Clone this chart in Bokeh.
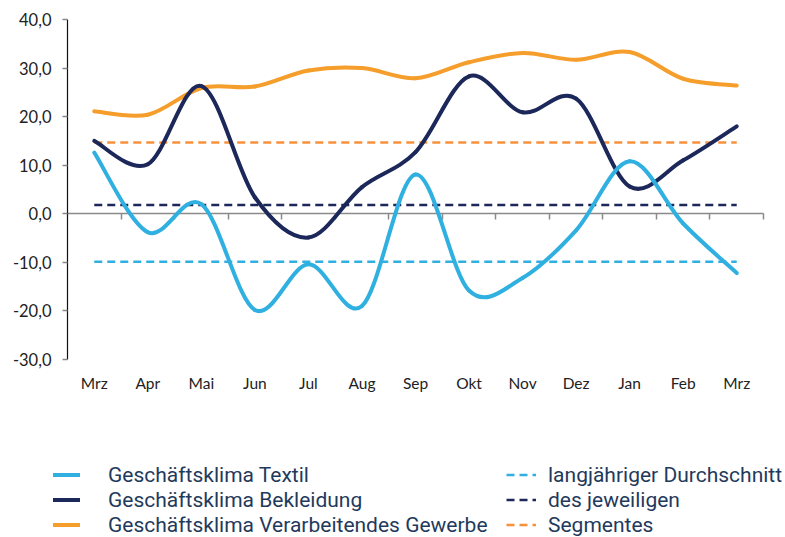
from bokeh.plotting import figure
from bokeh.models import Range1d, FixedTicker, LinearAxis, Legend, LegendItem
from bokeh.embed import file_html
from bokeh.resources import INLINE

# ---- data ----
months = ["Mrz", "Apr", "Mai", "Jun", "Jul", "Aug", "Sep", "Okt", "Nov", "Dez", "Jan", "Feb", "Mrz"]
textil = [12.6, -3.8, 2.0, -19.8, -10.4, -19.0, 8.1, -15.8, -13.2, -3.4, 10.8, -2.0, -12.2]
bekleidung = [15.0, 10.2, 26.3, 3.4, -4.9, 5.5, 12.7, 28.3, 20.9, 23.7, 5.6, 11.0, 18.0]
verarbeitend = [21.1, 20.4, 25.9, 26.2, 29.5, 30.0, 27.9, 31.2, 33.1, 31.7, 33.3, 27.8, 26.4]
avg_textil = -9.9
avg_bekleidung = 1.8
avg_verarbeitend = 14.7
y_ticks = [-30, -20, -10, 0, 10, 20, 30, 40]
y_tick_labels = ["-30,0", "-20,0", "-10,0", "0,0", "10,0", "20,0", "30,0", "40,0"]
legend_solid = ["Geschäftsklima Textil", "Geschäftsklima Bekleidung", "Geschäftsklima Verarbeitendes Gewerbe"]
legend_dashed = ["langjähriger Durchschnitt", "des jeweiligen", "Segmentes"]

C_LIGHT = "#2FB0E0"
C_NAVY = "#1C275A"
C_ORANGE = "#F59E2B"
C_ORANGE_D = "#F7913C"
FONT = "Lato"
LFONT = "Roboto"
DASH = "8 5"

n = len(months)
xs = [i + 0.5 for i in range(n)]
y_lo, y_hi = y_ticks[0], y_ticks[-1]

# layout geometry (pixels) of the plotting area inside the 785x537 canvas
W, H = 785, 537
AX_L, AX_R, AX_T, AX_B = 67, 763, 19, 359
px_x = (AX_R - AX_L) / n
px_y = (AX_B - AX_T) / (y_hi - y_lo)

p = figure(width=W, height=H, output_backend="svg", toolbar_location=None,
           x_range=Range1d(-AX_L / px_x, n + (W - AX_R) / px_x),
           y_range=Range1d(y_lo - (H - AX_B) / px_y, y_hi + AX_T / px_y),
           min_border=0, min_border_left=0, min_border_right=0, min_border_top=0, min_border_bottom=0)
p.outline_line_color = None
p.grid.visible = False
p.background_fill_color = "white"

# y axis (fixed at x=0)
ya = p.yaxis[0]
ya.fixed_location = 0
ya.bounds = (y_lo, y_hi)
ya.ticker = FixedTicker(ticks=y_ticks)
ya.major_label_overrides = {t: l for t, l in zip(y_ticks, y_tick_labels)}
ya.axis_line_color = "#111111"
ya.axis_line_width = 1.2
ya.major_tick_line_color = "#888888"
ya.major_tick_line_width = 1.5
ya.major_tick_out = 5
ya.major_tick_in = 0
ya.minor_tick_line_color = None
ya.major_label_standoff = 11
ya.major_label_text_font = FONT
ya.major_label_text_font_size = "16.5px"
ya.major_label_text_color = "#222222"

# x axis: month labels below the -30 line
xa = p.xaxis[0]
xa.fixed_location = y_lo
xa.ticker = FixedTicker(ticks=xs)
xa.major_label_overrides = {x: m for x, m in zip(xs, months)}
xa.axis_line_color = None
xa.major_tick_line_color = None
xa.major_tick_out = 0
xa.major_tick_in = 0
xa.minor_tick_line_color = None
xa.major_label_standoff = 14
xa.major_label_text_font = FONT
xa.major_label_text_font_size = "15.5px"
xa.major_label_text_color = "#222222"

# zero line with ticks at category boundaries
bounds = list(range(1, n + 1))
za = LinearAxis(fixed_location=0, bounds=(0, n), ticker=FixedTicker(ticks=bounds),
                axis_line_color="#8a8a8a", axis_line_width=1.5,
                major_tick_line_color="#8a8a8a", major_tick_line_width=1.5,
                major_tick_out=6, major_tick_in=0, minor_tick_line_color=None,
                major_label_text_color=None, level="underlay")
p.add_layout(za, "below")


def smooth(ys):
    # Catmull-Rom style control points for Bezier segments through the data points
    x0, y0, x1, y1, cx0, cy0, cx1, cy1 = [], [], [], [], [], [], [], []
    for i in range(n - 1):
        pm = (xs[max(i - 1, 0)], ys[max(i - 1, 0)])
        p0 = (xs[i], ys[i])
        p1 = (xs[i + 1], ys[i + 1])
        p2 = (xs[min(i + 2, n - 1)], ys[min(i + 2, n - 1)])
        x0.append(p0[0]); y0.append(p0[1]); x1.append(p1[0]); y1.append(p1[1])
        cx0.append(p0[0] + (p1[0] - pm[0]) / 6); cy0.append(p0[1] + (p1[1] - pm[1]) / 6)
        cx1.append(p1[0] - (p2[0] - p0[0]) / 6); cy1.append(p1[1] - (p2[1] - p0[1]) / 6)
    return dict(x0=x0, y0=y0, x1=x1, y1=y1, cx0=cx0, cy0=cy0, cx1=cx1, cy1=cy1)


r_da = p.line([xs[0], xs[-1]], [avg_textil] * 2, line_color=C_LIGHT, line_width=2.5, line_dash=DASH)
r_dn = p.line([xs[0], xs[-1]], [avg_bekleidung] * 2, line_color=C_NAVY, line_width=2.5, line_dash=DASH)
r_do = p.line([xs[0], xs[-1]], [avg_verarbeitend] * 2, line_color=C_ORANGE_D, line_width=2.5, line_dash=DASH)

r_o = p.bezier(line_color=C_ORANGE, line_width=4, line_cap="round", **smooth(verarbeitend))
r_n = p.bezier(line_color=C_NAVY, line_width=4, line_cap="round", **smooth(bekleidung))
r_l = p.bezier(line_color=C_LIGHT, line_width=4, line_cap="round", **smooth(textil))


def make_legend(labels, rends, loc, gw, standoff):
    return Legend(items=[LegendItem(label=l, renderers=[r]) for l, r in zip(labels, rends)],
                  location=loc, orientation="vertical",
                  glyph_width=gw, glyph_height=25, label_height=25, spacing=0,
                  label_standoff=standoff, padding=0, margin=0,
                  border_line_color=None, background_fill_alpha=0,
                  label_text_font=LFONT, label_text_font_size="21px",
                  label_text_color="#1F3A5C")


p.add_layout(make_legend(legend_solid, [r_l, r_n, r_o], (53, 0), 27, 28))
p.add_layout(make_legend(legend_dashed, [r_da, r_dn, r_do], (506, 0), 30, 12))

open("out.html", "w").write(file_html(p, INLINE))
